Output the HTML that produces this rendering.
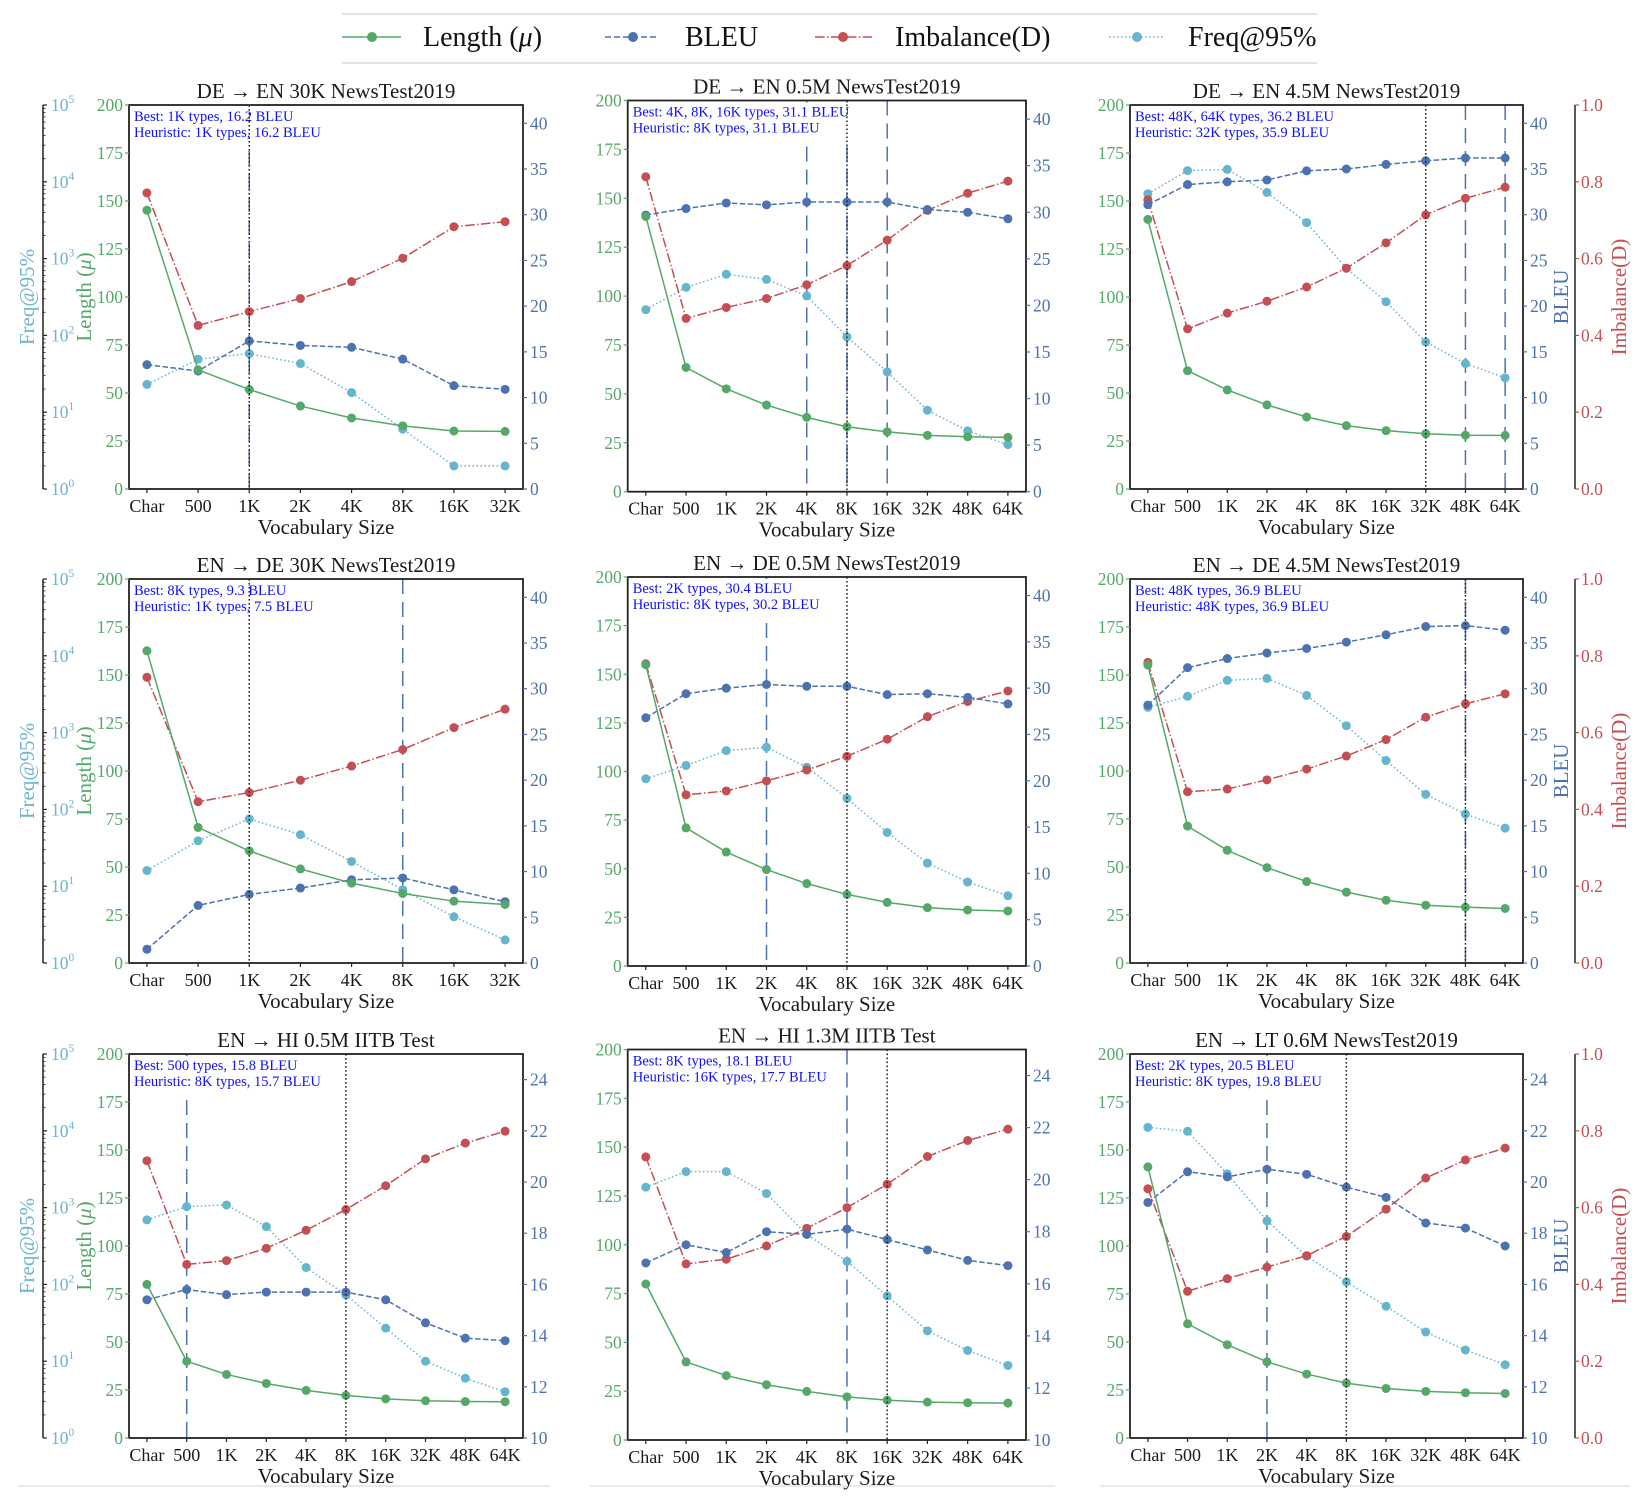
<!DOCTYPE html>
<html><head><meta charset="utf-8"><title>Vocabulary size charts</title>
<style>
html,body{margin:0;padding:0;background:#fff;}
svg{display:block;font-family:"Liberation Serif",serif;}
</style></head>
<body>
<svg id="fig" xmlns="http://www.w3.org/2000/svg" width="1644" height="1500" viewBox="0 0 1644 1500">
  <g>
    <line x1="342" y1="14" x2="1317" y2="14" stroke="#d8d8d8" stroke-width="1.5"/>
    <line x1="342" y1="63" x2="1317" y2="63" stroke="#d8d8d8" stroke-width="1.5"/>
    <g>
      <line x1="342" y1="37" x2="401" y2="37" stroke="#55a868" stroke-width="1.5"/>
      <circle cx="372" cy="37" r="5" fill="#55a868"/>
      <text x="423" y="46" font-size="28" fill="#111">Length (<tspan font-style="italic">μ</tspan>)</text>
    </g>
    <g>
      <line x1="605" y1="37" x2="659" y2="37" stroke="#4c72b0" stroke-width="1.5" stroke-dasharray="6,3"/>
      <circle cx="633" cy="37" r="5" fill="#4c72b0"/>
      <text x="685" y="46" font-size="28" fill="#111">BLEU</text>
    </g>
    <g>
      <line x1="815" y1="37" x2="872" y2="37" stroke="#c44e52" stroke-width="1.5" stroke-dasharray="9.6,2.4,1.5,2.4"/>
      <circle cx="843" cy="37" r="5" fill="#c44e52"/>
      <text x="895" y="46" font-size="28" fill="#111">Imbalance(D)</text>
    </g>
    <g>
      <line x1="1109" y1="37" x2="1163" y2="37" stroke="#64b5cd" stroke-width="1.5" stroke-dasharray="1.5,2.5"/>
      <circle cx="1137" cy="37" r="5" fill="#64b5cd"/>
      <text x="1188" y="46" font-size="28" fill="#111">Freq@95%</text>
    </g>
  </g>
  <line x1="18" y1="1486" x2="550" y2="1486" stroke="#e4e4e4" stroke-width="1.5"/>
  <line x1="590" y1="1486" x2="1055" y2="1486" stroke="#e4e4e4" stroke-width="1.5"/>
  <line x1="1100" y1="1486" x2="1630" y2="1486" stroke="#e4e4e4" stroke-width="1.5"/>
</svg>
<script>
const cats8 = ["Char","500","1K","2K","4K","8K","16K","32K"];
const cats10 = ["Char","500","1K","2K","4K","8K","16K","32K","48K","64K"];

const p1Length = [145.2,62.1,51.8,43.2,37.0,32.9,30.2,30.0];
const p1Bleu = [13.6,12.9,16.2,15.7,15.5,14.2,11.3,10.9];
const p1Imb = [0.771,0.426,0.462,0.496,0.540,0.601,0.683,0.696];
const p1Freq = [23,49,58,43,18,6,2,2];

const p2Length = [140.7,63.5,52.6,44.3,38.0,33.2,30.6,28.8,28.1,27.8];
const p2Bleu = [29.7,30.4,31.0,30.8,31.1,31.1,31.1,30.3,30.0,29.3];
const p2Imb = [0.805,0.443,0.471,0.494,0.529,0.578,0.643,0.719,0.763,0.794];
const p2Freq = [212,409,601,517,318,95,34,11,6,4];

const p3Length = [140.4,61.6,51.6,43.8,37.5,33.0,30.4,28.8,28.0,27.9];
const p3Bleu = [31.1,33.3,33.6,33.8,34.8,35.0,35.5,35.9,36.2,36.2];
const p3Imb = [0.753,0.417,0.458,0.489,0.526,0.575,0.641,0.714,0.757,0.786];
const p3Freq = [6980,14000,14500,7280,2940,750,274,82,43,28];

const p4Length = [162.6,70.6,58.4,49.0,41.6,36.2,32.2,30.5];
const p4Bleu = [1.5,6.3,7.5,8.2,9.1,9.3,8.0,6.7];
const p4Imb = [0.744,0.420,0.444,0.476,0.513,0.556,0.613,0.661];
const p4Freq = [16,39,75,47,21,9,4,2];

const p5Length = [154.9,71.0,58.6,49.6,42.4,36.8,32.7,30.0,28.8,28.3];
const p5Bleu = [26.8,29.4,30.0,30.4,30.2,30.2,29.3,29.4,29.0,28.3];
const p5Imb = [0.777,0.440,0.450,0.476,0.504,0.539,0.583,0.641,0.680,0.707];
const p5Freq = [255,378,587,647,359,143,52,21,12,8];

const p6Length = [155.2,71.3,58.7,49.7,42.4,36.9,32.7,30.1,29.1,28.4];
const p6Bleu = [28.2,32.3,33.3,33.9,34.4,35.1,35.9,36.8,36.9,36.4];
const p6Imb = [0.783,0.446,0.453,0.477,0.505,0.539,0.582,0.640,0.675,0.701];
const p6Freq = [2130,2970,4790,5080,3050,1230,433,157,87,57];

const p7Length = [80.0,40.0,33.1,28.4,24.8,22.2,20.4,19.4,19.0,18.9];
const p7Bleu = [15.4,15.8,15.6,15.7,15.7,15.7,15.4,14.5,13.9,13.8];
const p7Imb = [0.722,0.452,0.462,0.494,0.541,0.595,0.657,0.727,0.768,0.799];
const p7Freq = [692,1030,1083,566,166,73,27,10,6,4];

const p8Length = [79.9,40.0,33.0,28.3,24.9,22.1,20.4,19.4,19.1,18.9];
const p8Bleu = [16.8,17.5,17.2,18.0,17.9,18.1,17.7,17.3,16.9,16.7];
const p8Imb = [0.725,0.451,0.463,0.497,0.542,0.595,0.655,0.726,0.767,0.796];
const p8Freq = [1726,2735,2735,1432,429,194,70,25,14,9];

const p9Length = [141.2,59.5,48.6,39.7,33.3,28.6,25.8,24.3,23.6,23.2];
const p9Bleu = [19.2,20.4,20.2,20.5,20.3,19.8,19.4,18.4,18.2,17.5];
const p9Imb = [0.649,0.382,0.415,0.445,0.475,0.525,0.596,0.677,0.724,0.755];
const p9Freq = [11100,9860,2750,673,233,108,52,24,14,9];

const bleuTicksWide = [0,5,10,15,20,25,30,35,40];
const bleuTicksNarrow = [10,12,14,16,18,20,22,24];
const lengthTicks = [0,25,50,75,100,125,150,175,200];
const imbTicks = [0,0.2,0.4,0.6,0.8,1.0];
const freqExps = [0,1,2,3,4,5];

const C1 = {l:129, r:523}, C2 = {l:627.7, r:1026}, C3 = {l:1130, r:1523};
const panels = [
 {id:"panel-de-en-30k",title:"DE \u2192 EN 30K NewsTest2019",best:"Best: 1K types, 16.2 BLEU",heur:"Heuristic: 1K types, 16.2 BLEU",cats:cats8,len:p1Length,bleu:p1Bleu,imb:p1Imb,freq:p1Freq,bestIdx:[2],heurIdx:2,col:0,l:C1.l,r:C1.r,t:105,b:489,bmin:0,bmax:42,bt:bleuTicksWide},
 {id:"panel-de-en-05m",title:"DE \u2192 EN 0.5M NewsTest2019",best:"Best: 4K, 8K, 16K types, 31.1 BLEU",heur:"Heuristic: 8K types, 31.1 BLEU",cats:cats10,len:p2Length,bleu:p2Bleu,imb:p2Imb,freq:p2Freq,bestIdx:[4,5,6],heurIdx:5,col:1,l:C2.l,r:C2.r,t:100.5,b:491.7,bmin:0,bmax:42,bt:bleuTicksWide},
 {id:"panel-de-en-45m",title:"DE \u2192 EN 4.5M NewsTest2019",best:"Best: 48K, 64K types, 36.2 BLEU",heur:"Heuristic: 32K types, 35.9 BLEU",cats:cats10,len:p3Length,bleu:p3Bleu,imb:p3Imb,freq:p3Freq,bestIdx:[8,9],heurIdx:7,col:2,l:C3.l,r:C3.r,t:105,b:489,bmin:0,bmax:42,bt:bleuTicksWide},
 {id:"panel-en-de-30k",title:"EN \u2192 DE 30K NewsTest2019",best:"Best: 8K types, 9.3 BLEU",heur:"Heuristic: 1K types, 7.5 BLEU",cats:cats8,len:p4Length,bleu:p4Bleu,imb:p4Imb,freq:p4Freq,bestIdx:[5],heurIdx:2,col:0,l:C1.l,r:C1.r,t:579,b:963,bmin:0,bmax:42,bt:bleuTicksWide},
 {id:"panel-en-de-05m",title:"EN \u2192 DE 0.5M NewsTest2019",best:"Best: 2K types, 30.4 BLEU",heur:"Heuristic: 8K types, 30.2 BLEU",cats:cats10,len:p5Length,bleu:p5Bleu,imb:p5Imb,freq:p5Freq,bestIdx:[3],heurIdx:5,col:1,l:C2.l,r:C2.r,t:577,b:966,bmin:0,bmax:42,bt:bleuTicksWide},
 {id:"panel-en-de-45m",title:"EN \u2192 DE 4.5M NewsTest2019",best:"Best: 48K types, 36.9 BLEU",heur:"Heuristic: 48K types, 36.9 BLEU",cats:cats10,len:p6Length,bleu:p6Bleu,imb:p6Imb,freq:p6Freq,bestIdx:[8],heurIdx:8,col:2,l:C3.l,r:C3.r,t:579,b:963,bmin:0,bmax:42,bt:bleuTicksWide},
 {id:"panel-en-hi-05m",title:"EN \u2192 HI 0.5M IITB Test",best:"Best: 500 types, 15.8 BLEU",heur:"Heuristic: 8K types, 15.7 BLEU",cats:cats10,len:p7Length,bleu:p7Bleu,imb:p7Imb,freq:p7Freq,bestIdx:[1],heurIdx:5,col:0,l:C1.l,r:C1.r,t:1054,b:1438,bmin:10,bmax:25,bt:bleuTicksNarrow},
 {id:"panel-en-hi-13m",title:"EN \u2192 HI 1.3M IITB Test",best:"Best: 8K types, 18.1 BLEU",heur:"Heuristic: 16K types, 17.7 BLEU",cats:cats10,len:p8Length,bleu:p8Bleu,imb:p8Imb,freq:p8Freq,bestIdx:[5],heurIdx:6,col:1,l:C2.l,r:C2.r,t:1049.5,b:1440,bmin:10,bmax:25,bt:bleuTicksNarrow},
 {id:"panel-en-lt-06m",title:"EN \u2192 LT 0.6M NewsTest2019",best:"Best: 2K types, 20.5 BLEU",heur:"Heuristic: 8K types, 19.8 BLEU",cats:cats10,len:p9Length,bleu:p9Bleu,imb:p9Imb,freq:p9Freq,bestIdx:[3],heurIdx:5,col:2,l:C3.l,r:C3.r,t:1054,b:1438,bmin:10,bmax:25,bt:bleuTicksNarrow}
];

const NS = "http://www.w3.org/2000/svg";
const svg = document.getElementById("fig");
const GREEN="#55a868", BLUE="#4c72b0", RED="#c44e52", CYAN="#64b5cd", FREQC="#6cb4cf";

function mk(tag, attrs, parent, txt){
  const e = document.createElementNS(NS, tag);
  for (const k in attrs) e.setAttribute(k, attrs[k]);
  if (txt !== undefined) e.textContent = txt;
  parent.appendChild(e);
  return e;
}

function drawPanel(P){
  const g = mk("g", {}, svg);
  
  
  const n = P.cats.length, w = P.r - P.l, h = P.b - P.t;
  const xs = i => P.l + (i + 0.05*(n-1)) / (1.1*(n-1)) * w;
  const yL = v => P.b - v/200*h;
  const yB = v => P.b - (v - P.bmin)/(P.bmax - P.bmin)*h;
  const yI = v => P.b - v*h;
  const yF = v => P.b - Math.log10(v)/5*h;

  const title = mk("text", {x:(P.l+P.r)/2, y:P.t-7, "font-size":21, "text-anchor":"middle", fill:"#1a1a1a"}, g, P.title);
  
  

  P.bestIdx.forEach(i => {
    const vl = mk("line", {x1:xs(i), x2:xs(i), y1:P.t, y2:P.b, stroke:BLUE, "stroke-width":1.5, "stroke-dasharray":"15,8"}, g);
    
    
  });

  const series = [
    {name:"freq95", vals:P.freq, y:yF, c:CYAN, d:"1.5,2.5"},
    {name:"imbalance", vals:P.imb, y:yI, c:RED, d:"9.6,2.4,1.5,2.4"},
    {name:"bleu", vals:P.bleu, y:yB, c:BLUE, d:"5.5,2.4"},
    {name:"length", vals:P.len, y:yL, c:GREEN, d:"none"}
  ];
  series.forEach(s => {
    const sg = mk("g", {}, g);
    
    
    const pts = s.vals.map((v,i) => xs(i).toFixed(2)+","+s.y(v).toFixed(2)).join(" ");
    const pl = mk("polyline", {points:pts, fill:"none", stroke:s.c, "stroke-width":1.5, "stroke-dasharray":s.d}, sg);
    
    
    s.vals.forEach((v,i) => {
      const c = mk("circle", {cx:xs(i), cy:s.y(v), r:4.5, fill:s.c}, sg);
      
      
    });
  });

  const ag = mk("g", {}, g);
  
  
  const bg = mk("rect", {x:P.l+2, y:P.t+2, width:10, height:38, fill:"#fff"}, ag);
  
  
  const t1 = mk("text", {x:P.l+5, y:P.t+16, "font-size":14.5, fill:"#1010ff"}, ag, P.best);
  
  
  const t2 = mk("text", {x:P.l+5, y:P.t+32, "font-size":14.5, fill:"#1010ff"}, ag, P.heur);
  
  
  let bw = 230;
  try { bw = Math.max(t1.getBBox().width, t2.getBBox().width) + 6; } catch(e) {}
  bg.setAttribute("width", bw);

  const hv = mk("line", {x1:xs(P.heurIdx), x2:xs(P.heurIdx), y1:P.t, y2:P.b, stroke:"#222", "stroke-width":1.5, "stroke-dasharray":"1.6,2.4"}, g);
  
  

  const fr = mk("rect", {x:P.l, y:P.t, width:w, height:h, fill:"none", stroke:"#222", "stroke-width":1.8}, g);
  
  

  const xg = mk("g", {}, g);
  
  
  P.cats.forEach((c,i) => {
    mk("line", {x1:xs(i), x2:xs(i), y1:P.b, y2:P.b+4, stroke:"#222", "stroke-width":1.2}, xg);
    const tl = mk("text", {x:xs(i), y:P.b+23, "font-size":18, "text-anchor":"middle", fill:"#1a1a1a"}, xg, c);
    
    
  });
  const xt = mk("text", {x:(P.l+P.r)/2, y:P.b+45, "font-size":21, "text-anchor":"middle", fill:"#1a1a1a"}, xg, "Vocabulary Size");
  
  

  const lg = mk("g", {}, g);
  
  
  lengthTicks.forEach(v => {
    mk("line", {x1:P.l-4, x2:P.l, y1:yL(v), y2:yL(v), stroke:GREEN, "stroke-width":1.2}, lg);
    const tl = mk("text", {x:P.l-6, y:yL(v)+6, "font-size":17.5, "text-anchor":"end", fill:GREEN}, lg, String(v));
    
    
  });

  const bgx = mk("g", {}, g);
  
  
  P.bt.forEach(v => {
    mk("line", {x1:P.r, x2:P.r+4, y1:yB(v), y2:yB(v), stroke:BLUE, "stroke-width":1.2}, bgx);
    const tl = mk("text", {x:P.r+7, y:yB(v)+6, "font-size":17.5, fill:BLUE}, bgx, String(v));
    
    
  });

  if (P.col === 0) {
    const fg = mk("g", {}, g);
    
    
    const fx = 43;
    mk("line", {x1:fx, x2:fx, y1:P.t, y2:P.b, stroke:"#222", "stroke-width":1.5}, fg);
    freqExps.forEach(e => {
      const y = yF(Math.pow(10,e));
      mk("line", {x1:fx, x2:fx+4, y1:y, y2:y, stroke:"#222", "stroke-width":1.2}, fg);
      if (e < 5) for (let m = 2; m < 10; m++) {
        const ym = yF(m*Math.pow(10,e));
        mk("line", {x1:fx, x2:fx+2.5, y1:ym, y2:ym, stroke:"#222", "stroke-width":0.8}, fg);
      }
      const tl = mk("text", {x:fx+8, y:y+6, "font-size":17.5, fill:FREQC}, fg);
      
      
      mk("tspan", {}, tl, "10");
      mk("tspan", {dy:-8, "font-size":11.5}, tl, String(e));
    });
    const cy = (P.t+P.b)/2;
    const fl = mk("text", {x:27, y:cy, "font-size":21, "text-anchor":"middle", fill:FREQC, transform:"rotate(-90 27 "+cy+")", dy:7}, fg, "Freq@95%");
    
    
    const ll = mk("text", {x:84, y:cy, "font-size":21, "text-anchor":"middle", fill:GREEN, transform:"rotate(-90 84 "+cy+")", dy:7}, g);
    
    
    mk("tspan", {}, ll, "Length (");
    mk("tspan", {"font-style":"italic"}, ll, "\u03bc");
    mk("tspan", {}, ll, ")");
  }

  if (P.col === 2) {
    const cy = (P.t+P.b)/2;
    const bl = mk("text", {x:1561, y:cy, "font-size":21, "text-anchor":"middle", fill:BLUE, transform:"rotate(-90 1561 "+cy+")", dy:7}, g, "BLEU");
    
    
    const ig = mk("g", {}, g);
    
    
    const ix = 1575;
    mk("line", {x1:ix, x2:ix, y1:P.t, y2:P.b, stroke:"#222", "stroke-width":1.5}, ig);
    imbTicks.forEach(v => {
      mk("line", {x1:ix, x2:ix+4, y1:yI(v), y2:yI(v), stroke:RED, "stroke-width":1.2}, ig);
      const tl = mk("text", {x:ix+6, y:yI(v)+6, "font-size":17.5, fill:RED}, ig, v.toFixed(1));
      
      
    });
    const il = mk("text", {x:1619, y:cy, "font-size":21, "text-anchor":"middle", fill:RED, transform:"rotate(-90 1619 "+cy+")", dy:7}, ig, "Imbalance(D)");
    
    
  }
}

panels.forEach(drawPanel);
</script>
</body></html>
